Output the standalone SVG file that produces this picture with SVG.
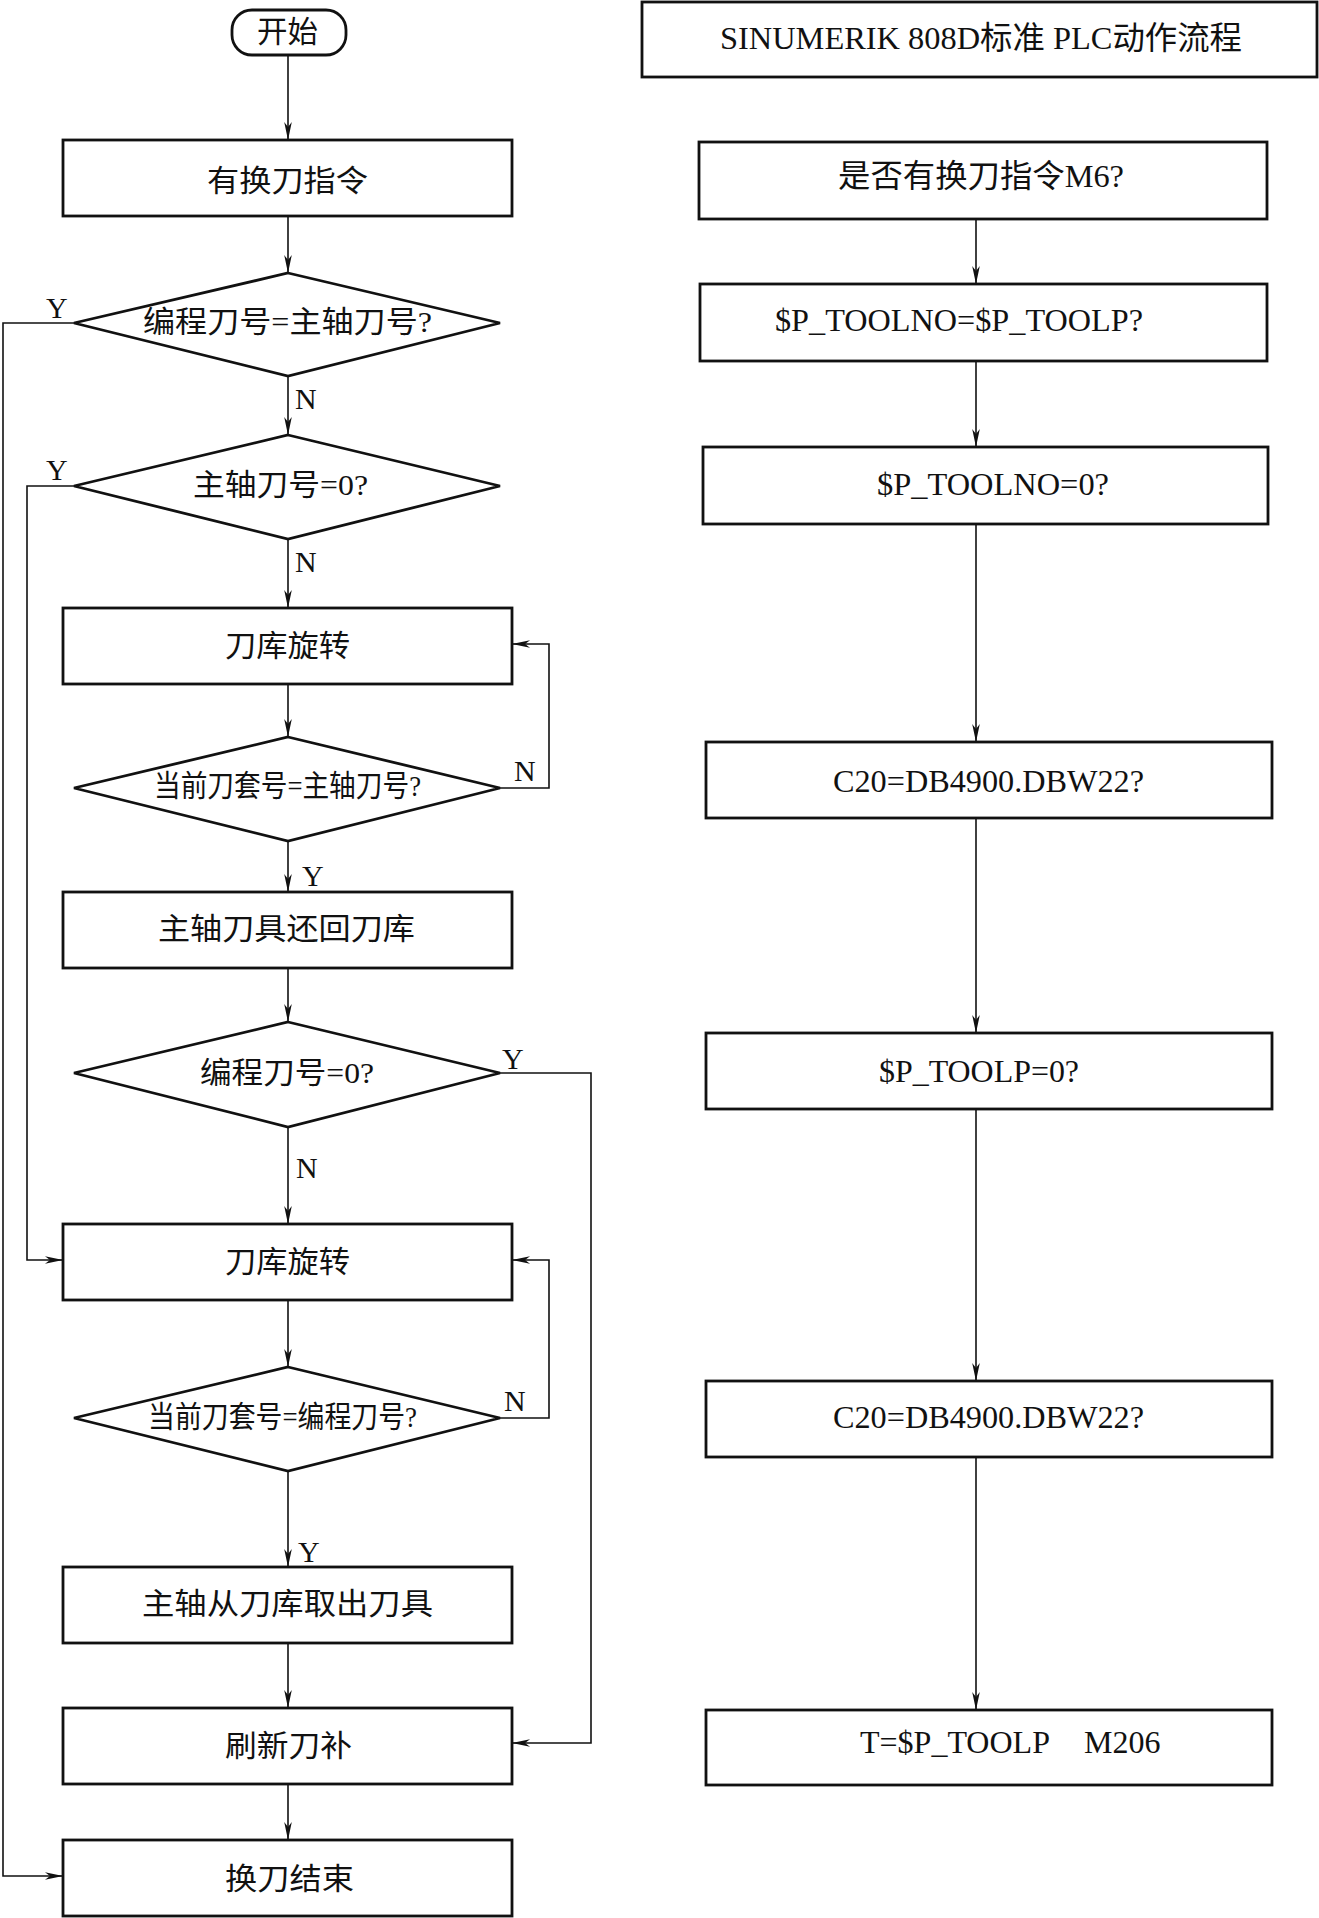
<svg xmlns="http://www.w3.org/2000/svg" width="1319" height="1918" viewBox="0 0 1319 1918">
<style>
.box{fill:#fff;stroke:#111;stroke-width:2.8}
.con{fill:none;stroke:#111;stroke-width:1.6}
.t{font-family:"Liberation Serif","Noto Sans CJK SC",serif;font-size:30px;fill:#111}
.l{font-family:"Liberation Serif","Noto Sans CJK SC",serif;font-size:32px;fill:#111}
.lab{font-family:"Liberation Serif",serif;font-size:30px;fill:#111}
</style>
<defs>
<marker id="ah" markerUnits="userSpaceOnUse" markerWidth="20" markerHeight="10" refX="18" refY="5" orient="auto">
<path d="M0,1.2 L18,5 L0,8.8 L5,5 Z" fill="#111"/>
</marker>
</defs>
<rect width="1319" height="1918" fill="#fff"/>
<g id="connectors">
<line class="con" x1="288" y1="55" x2="288" y2="140" marker-end="url(#ah)"/>
<line class="con" x1="288" y1="216" x2="288" y2="273" marker-end="url(#ah)"/>
<line class="con" x1="288" y1="376" x2="288" y2="435" marker-end="url(#ah)"/>
<line class="con" x1="288" y1="539" x2="288" y2="608" marker-end="url(#ah)"/>
<line class="con" x1="288" y1="684" x2="288" y2="737" marker-end="url(#ah)"/>
<line class="con" x1="288" y1="841" x2="288" y2="892" marker-end="url(#ah)"/>
<line class="con" x1="288" y1="968" x2="288" y2="1022" marker-end="url(#ah)"/>
<line class="con" x1="288" y1="1127" x2="288" y2="1224" marker-end="url(#ah)"/>
<line class="con" x1="288" y1="1300" x2="288" y2="1367" marker-end="url(#ah)"/>
<line class="con" x1="288" y1="1471" x2="288" y2="1567" marker-end="url(#ah)"/>
<line class="con" x1="288" y1="1643" x2="288" y2="1708" marker-end="url(#ah)"/>
<line class="con" x1="288" y1="1784" x2="288" y2="1840" marker-end="url(#ah)"/>
<polyline class="con" points="74,323 3,323 3,1876 63,1876" marker-end="url(#ah)"/>
<polyline class="con" points="74,486 27,486 27,1260 63,1260" marker-end="url(#ah)"/>
<polyline class="con" points="500,788 549,788 549,644 512,644" marker-end="url(#ah)"/>
<polyline class="con" points="500,1073 591,1073 591,1743 512,1743" marker-end="url(#ah)"/>
<polyline class="con" points="500,1418 549,1418 549,1260 512,1260" marker-end="url(#ah)"/>
<line class="con" x1="976" y1="219" x2="976" y2="284" marker-end="url(#ah)"/>
<line class="con" x1="976" y1="361" x2="976" y2="447" marker-end="url(#ah)"/>
<line class="con" x1="976" y1="524" x2="976" y2="742" marker-end="url(#ah)"/>
<line class="con" x1="976" y1="818" x2="976" y2="1033" marker-end="url(#ah)"/>
<line class="con" x1="976" y1="1109" x2="976" y2="1381" marker-end="url(#ah)"/>
<line class="con" x1="976" y1="1457" x2="976" y2="1710" marker-end="url(#ah)"/>
<text class="lab" x="46" y="318">Y</text>
<text class="lab" x="46" y="480">Y</text>
<text class="lab" x="295" y="409">N</text>
<text class="lab" x="295" y="572">N</text>
<text class="lab" x="514" y="781">N</text>
<text class="lab" x="302" y="886">Y</text>
<text class="lab" x="502" y="1069">Y</text>
<text class="lab" x="296" y="1178">N</text>
<text class="lab" x="504" y="1411">N</text>
<text class="lab" x="298" y="1562">Y</text>
</g>
<g id="start"><rect class="box" x="232" y="10" width="114" height="45" rx="20"/><text class="t" x="257" y="42" font-size="27" textLength="61" lengthAdjust="spacingAndGlyphs">开始</text></g>
<g id="n1"><rect class="box" x="63" y="140" width="449" height="76"/><text class="t" x="207" y="191" textLength="161" lengthAdjust="spacingAndGlyphs">有换刀指令</text></g>
<g id="d1"><polygon class="box" points="288,273 500,323 288,376 74,323"/><text class="t" x="143" y="332" textLength="289" lengthAdjust="spacingAndGlyphs">编程刀号=主轴刀号?</text></g>
<g id="d2"><polygon class="box" points="288,435 500,486 288,539 74,486"/><text class="t" x="193" y="495" textLength="175" lengthAdjust="spacingAndGlyphs">主轴刀号=0?</text></g>
<g id="n2"><rect class="box" x="63" y="608" width="449" height="76"/><text class="t" x="225" y="656" textLength="125" lengthAdjust="spacingAndGlyphs">刀库旋转</text></g>
<g id="d3"><polygon class="box" points="288,737 500,788 288,841 74,788"/><text class="t" x="154" y="796" textLength="267" lengthAdjust="spacingAndGlyphs">当前刀套号=主轴刀号?</text></g>
<g id="n3"><rect class="box" x="63" y="892" width="449" height="76"/><text class="t" x="158" y="939" textLength="257" lengthAdjust="spacingAndGlyphs">主轴刀具还回刀库</text></g>
<g id="d4"><polygon class="box" points="288,1022 500,1073 288,1127 74,1073"/><text class="t" x="200" y="1083" textLength="174" lengthAdjust="spacingAndGlyphs">编程刀号=0?</text></g>
<g id="n4"><rect class="box" x="63" y="1224" width="449" height="76"/><text class="t" x="225" y="1272" textLength="125" lengthAdjust="spacingAndGlyphs">刀库旋转</text></g>
<g id="d5"><polygon class="box" points="288,1367 500,1418 288,1471 74,1418"/><text class="t" x="148" y="1427" textLength="269" lengthAdjust="spacingAndGlyphs">当前刀套号=编程刀号?</text></g>
<g id="n5"><rect class="box" x="63" y="1567" width="449" height="76"/><text class="t" x="142" y="1614" textLength="291" lengthAdjust="spacingAndGlyphs">主轴从刀库取出刀具</text></g>
<g id="n6"><rect class="box" x="63" y="1708" width="449" height="76"/><text class="t" x="225" y="1756" textLength="127" lengthAdjust="spacingAndGlyphs">刷新刀补</text></g>
<g id="n7"><rect class="box" x="63" y="1840" width="449" height="76"/><text class="t" x="225" y="1889" textLength="129" lengthAdjust="spacingAndGlyphs">换刀结束</text></g>
<g id="title"><rect class="box" x="642" y="2" width="675" height="75"/><text class="l" x="720" y="49" textLength="522" lengthAdjust="spacingAndGlyphs">SINUMERIK 808D标准 PLC动作流程</text></g>
<g id="r1"><rect class="box" x="699" y="142" width="568" height="77"/><text class="l" x="838" y="187" textLength="286" lengthAdjust="spacingAndGlyphs">是否有换刀指令M6?</text></g>
<g id="r2"><rect class="box" x="700" y="284" width="567" height="77"/><text class="l" x="775" y="331" textLength="368" lengthAdjust="spacingAndGlyphs">$P_TOOLNO=$P_TOOLP?</text></g>
<g id="r3"><rect class="box" x="703" y="447" width="565" height="77"/><text class="l" x="877" y="495" textLength="232" lengthAdjust="spacingAndGlyphs">$P_TOOLNO=0?</text></g>
<g id="r4"><rect class="box" x="706" y="742" width="566" height="76"/><text class="l" x="833" y="792" textLength="311" lengthAdjust="spacingAndGlyphs">C20=DB4900.DBW22?</text></g>
<g id="r5"><rect class="box" x="706" y="1033" width="566" height="76"/><text class="l" x="879" y="1082" textLength="200" lengthAdjust="spacingAndGlyphs">$P_TOOLP=0?</text></g>
<g id="r6"><rect class="box" x="706" y="1381" width="566" height="76"/><text class="l" x="833" y="1428" textLength="311" lengthAdjust="spacingAndGlyphs">C20=DB4900.DBW22?</text></g>
<g id="r7"><rect class="box" x="706" y="1710" width="566" height="75"/><text class="l" y="1753"><tspan x="860">T=$P_TOOLP</tspan><tspan x="1084">M206</tspan></text></g>
</svg>
